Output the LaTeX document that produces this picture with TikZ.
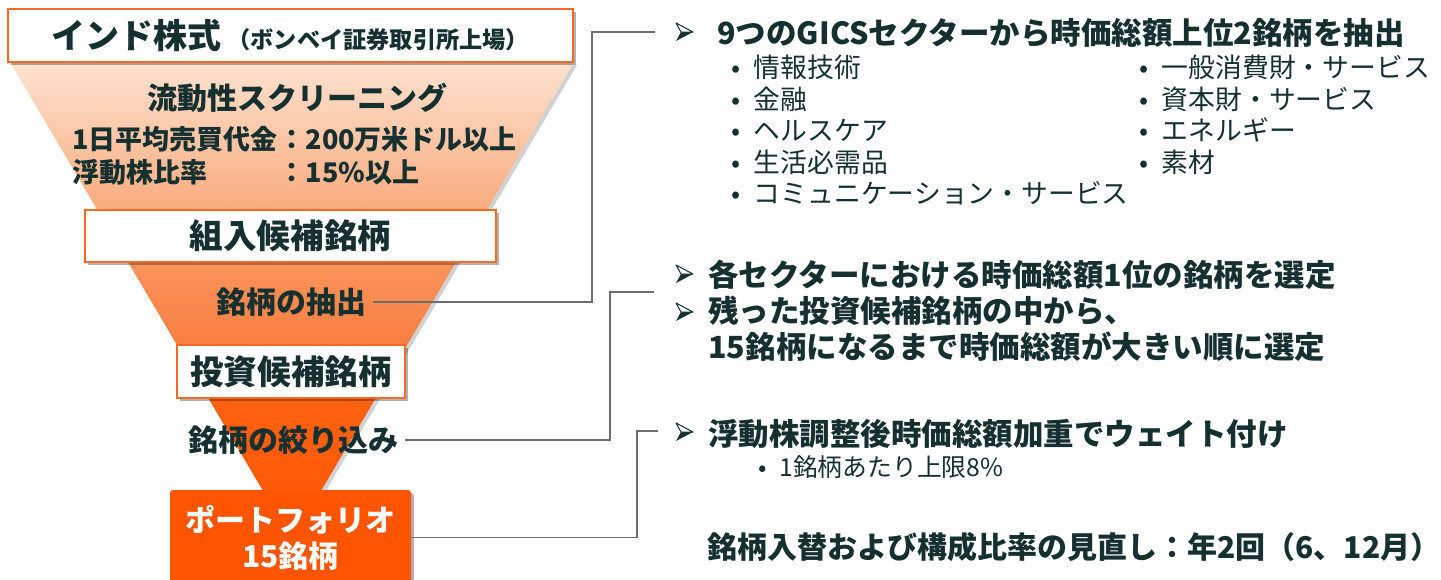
\documentclass[tikz,border=0pt]{standalone}
\usepackage{fontspec}
\setmainfont{Noto Sans CJK JP}
\usetikzlibrary{shadows}
\definecolor{txt}{HTML}{15302F}
\definecolor{orb}{HTML}{F36B26}
\definecolor{porg}{HTML}{FF5500}
\definecolor{conn}{HTML}{6E6E6E}
\definecolor{f1}{HTML}{FDE2D0}
\definecolor{f2}{HTML}{F9A270}
\definecolor{f3}{HTML}{FA9A64}
\definecolor{f4}{HTML}{F9783A}
\definecolor{f5}{HTML}{FF6414}
\definecolor{f6}{HTML}{FF5500}
\tikzset{
  box/.style={draw=orb, line width=1.1pt, fill=white, inner sep=0pt,
    drop shadow={shadow xshift=1.5pt, shadow yshift=-1.5pt, opacity=0.3, fill=black}},
  big/.style={font=\fontsize{15}{18}\selectfont\bfseries, text=txt},
  boxt/.style={font=\fontsize{16.8}{18}\selectfont\bfseries, text=txt},
  mid/.style={font=\fontsize{13.5}{16}\selectfont\bfseries, text=txt},
  lst/.style={font=\fontsize{13.4}{15.75}\selectfont, text=txt, align=left, anchor=north west, inner sep=0pt},
  hd/.style={font=\fontsize{15.25}{18}\selectfont\bfseries, text=txt, anchor=west, inner sep=0pt},
  cline/.style={draw=conn, line width=0.9pt},
  bul/.pic={
    \fill[txt] (9,0) -- (-3,0) -- (-8,9) -- cycle;
    \draw[txt, line width=0.5pt, line join=round, fill=white] (9,0) -- (-8,-9) -- (-3,0) -- cycle;
  },
}
\begin{document}
\begin{tikzpicture}[x=0.5pt,y=-0.5pt]
\useasboundingbox (0,0) rectangle (1441,579);
% funnel shadow
\fill[black, opacity=0.18] (13,65) -- (577,65) -- (295,543) -- cycle;
% funnel
\begin{scope}
\clip (10,62) -- (574,62) -- (292,540) -- cycle;
\shade[top color=f1, bottom color=f2] (0,62) rectangle (600,236);
\shade[top color=f3, bottom color=f4] (0,236) rectangle (600,372);
\shade[top color=f5, bottom color=f6] (0,372) rectangle (600,545);
\end{scope}
% boxes
\node[box, minimum width=282.5pt, minimum height=26.5pt] (title) at (290.5,35.5)
  {\textcolor{txt}{\fontsize{17}{18}\selectfont\bfseries インド株式\,\fontsize{11.6}{13}\selectfont（ボンベイ証券取引所上場）}};
\node[big] (liq) at (297,98) {流動性スクリーニング};
\node[mid, anchor=west, inner sep=0pt] (l1a) at (72,139) {1日平均売買代金};
\node[mid, anchor=west, inner sep=0pt] (l1b) at (l1a.east) {：200万米ドル以上};
\node[mid, anchor=west, inner sep=0pt] (l2a) at (72,172) {浮動株比率};
\node[mid, anchor=west, inner sep=0pt] (l2b) at (l1b.west |- l2a.west) {：15\%以上};
\node[box, boxt, minimum width=205.5pt, minimum height=26pt] (cand) at (290.5,236) {組入候補銘柄};
\node[big] (extr) at (291,302) {銘柄の抽出};
\node[box, boxt, minimum width=114pt, minimum height=26.5pt] (inv) at (291,371.5) {投資候補銘柄};
\node[big] (narrow) at (293,440) {銘柄の絞り込み};
\node[fill=porg, rounded corners=1.5pt, minimum width=120.5pt, minimum height=47.5pt, inner sep=0pt,
  drop shadow={shadow xshift=1.5pt, shadow yshift=-1.5pt, opacity=0.3, fill=black},
  font=\fontsize{15}{18}\selectfont\bfseries, text=white, align=center] (port) at (290.5,537.5)
  {ポートフォリオ\\15銘柄};
% right side
\pic (ar1) at (684,32) {bul};
\node[hd] (h1) at (717,33) {9つのGICSセクターから時価総額上位2銘柄を抽出};
\node[lst] (la) at (731,55) {•\enspace 情報技術\\•\enspace 金融\\•\enspace ヘルスケア\\•\enspace 生活必需品\\•\enspace コミュニケーション・サービス};
\node[lst] (lb) at (1139,55) {•\enspace 一般消費財・サービス\\•\enspace 資本財・サービス\\•\enspace エネルギー\\•\enspace 素材};
\pic (ar2) at (684,274) {bul};
\node[hd] (h2) at (708,275) {各セクターにおける時価総額1位の銘柄を選定};
\pic (ar3) at (684,312) {bul};
\node[hd, align=left, anchor=north west] (h3) at (708,296) {残った投資候補銘柄の中から、\\15銘柄になるまで時価総額が大きい順に選定};
\pic (ar4) at (684,432) {bul};
\node[hd] (h4) at (708,434) {浮動株調整後時価総額加重でウェイト付け};
\node[lst, anchor=west, font=\fontsize{12.4}{15}\selectfont] (sb) at (758,467) {•\enspace 1銘柄あたり上限8\%};
\node[hd, font=\fontsize{15}{18}\selectfont\bfseries] (rev) at (707,547) {銘柄入替および構成比率の見直し：年2回（6、12月）};
% connectors
\coordinate (k1) at (592,32); \coordinate (e1) at (655,32);
\coordinate (k2) at (610,292); \coordinate (e2) at (654,292);
\coordinate (k3) at (637,431); \coordinate (e3) at (658,431);
\draw[cline] (extr.east) -| (k1) -- (e1);
\draw[cline] (narrow.east) -| (k2) -- (e2);
\draw[cline] (port.east) -| (k3) -- (e3);
\end{tikzpicture}
\end{document}
